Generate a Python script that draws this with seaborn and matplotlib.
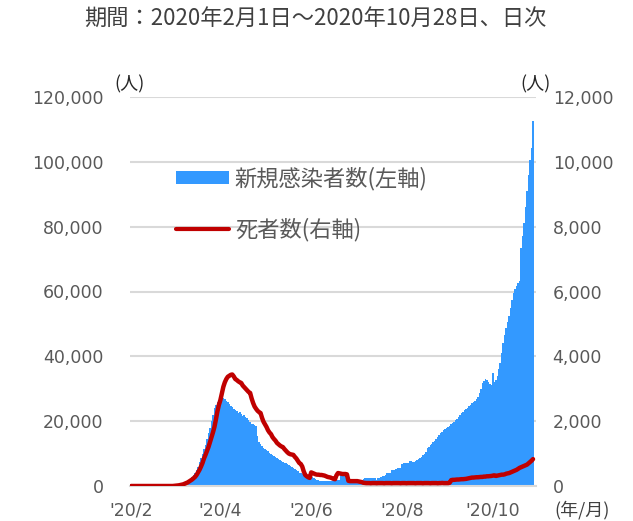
import numpy as np
import pandas as pd
import seaborn as sns
import matplotlib.pyplot as plt
from matplotlib.patches import Patch
from matplotlib.lines import Line2D

sns.set_style('white')
plt.rcParams['font.family'] = ['DejaVu Sans', 'Noto Sans CJK JP']
plt.rcParams['axes.unicode_minus'] = False
jp_font = ['Noto Sans CJK JP', 'DejaVu Sans']

# 新規感染者数（日次、2020/2/1～2020/10/28）
cases_feb = [0, 0, 0, 0, 0, 0, 0, 0, 0, 0, 0, 0, 0, 0, 0, 0, 0, 0, 0, 10,
             20, 30, 50, 80, 100, 130, 160, 190, 220]
cases_mar = [300, 400, 450, 500, 600, 750, 900, 1100, 1300, 1500,
             1800, 2200, 2700, 3300, 4000, 4800, 6000, 7400, 8700, 10000,
             11300, 12600, 14500, 16300, 18000, 20000, 22000, 24000, 25000, 25800,
             26200]
cases_apr = [26500, 27000, 27200, 26800, 26300, 25800, 25400, 24800, 24300, 23900,
             23300, 23000, 22500, 22800, 22100, 21600, 21900, 21300, 21000, 20500,
             19800, 19200, 19000, 18700, 18400, 15500, 13500, 13000, 12300, 11800]
cases_may = [11500, 11000, 10700, 10200, 10000, 9600, 9300, 9000, 8700, 8300,
             7900, 7700, 7400, 7200, 7000, 6800, 6500, 6200, 5900, 5600,
             5200, 4900, 4500, 4100, 3900, 3700, 3500, 3400, 3300, 3200,
             3100]
cases_jun = [2900, 2700, 2400, 2100, 1900, 1700, 1500, 1400, 1400, 1500,
             1400, 1500, 1500, 1500, 1600, 1600, 1700, 1800, 1800, 2000,
             3500, 3900, 4000, 3900, 3700, 2000, 1300, 1200, 1200, 1200]
cases_jul = [1200, 1200, 1300, 1300, 1300, 2300, 2400, 2500, 2500, 2400,
             2500, 2600, 2500, 2600, 2000, 2500, 2600, 2700, 3100, 3200,
             3300, 3900, 4000, 4100, 4800, 5000, 5000, 5100, 5500, 5600,
             5700]
cases_aug = [6800, 7000, 7000, 7100, 7200, 7600, 7700, 7500, 7400, 7600,
             8000, 8300, 8500, 9100, 9500, 9800, 10600, 11700, 12000, 12500,
             13000, 13600, 14000, 14500, 15200, 15700, 16200, 16800, 17300, 17700,
             18000]
cases_sep = [18200, 18600, 19100, 19500, 19800, 20300, 20800, 21400, 22000, 22400,
             22900, 23500, 23800, 24200, 24600, 25000, 25500, 25900, 26200, 26800,
             27500, 28700, 30000, 31700, 32400, 33000, 32600, 32200, 31500, 31200]
cases_oct = [34800, 32000, 32700, 34000, 36000, 37900, 41000, 44000, 46500, 48700,
             50500, 52300, 55000, 57500, 59500, 60800, 61600, 62500, 63100, 73400,
             77000, 81200, 86000, 90900, 96000, 100700, 104300, 112500]

# 死者数（日次）
deaths_feb = [0, 0, 0, 0, 0, 0, 0, 0, 0, 0, 0, 0, 0, 0, 0, 0, 0, 0, 0, 0,
              0, 0, 0, 0, 0, 0, 0, 0, 0]
deaths_mar = [5, 10, 15, 20, 30, 40, 50, 70, 90, 110,
              140, 170, 200, 240, 280, 340, 420, 500, 600, 710,
              850, 960, 1080, 1200, 1350, 1500, 1650, 1820, 2050, 2300,
              2500]
deaths_apr = [2650, 2850, 3060, 3200, 3300, 3370, 3400, 3430, 3440, 3380,
              3300, 3270, 3230, 3200, 3180, 3100, 3050, 3000, 2950, 2900,
              2870, 2700, 2560, 2450, 2380, 2320, 2280, 2250, 2100, 1980]
deaths_may = [1900, 1820, 1720, 1650, 1600, 1510, 1450, 1400, 1330, 1290,
              1250, 1220, 1200, 1140, 1090, 1040, 1000, 980, 970, 960,
              900, 850, 780, 710, 680, 600, 450, 340, 300, 270,
              250]
deaths_jun = [420, 400, 380, 360, 350, 350, 340, 340, 330, 320,
              300, 280, 270, 260, 240, 220, 210, 330, 400, 390,
              380, 370, 370, 370, 360, 160, 150, 150, 150, 150]
deaths_jul = [150, 150, 140, 130, 120, 100, 95, 90, 90, 90,
              85, 90, 90, 90, 85, 90, 90, 90, 90, 85,
              90, 90, 90, 90, 85, 90, 90, 90, 90, 90,
              85]
deaths_aug = [90, 90, 90, 85, 90, 90, 90, 90, 90, 85,
              90, 90, 90, 90, 85, 90, 90, 90, 90, 85,
              90, 90, 90, 90, 85, 90, 90, 95, 90, 90,
              90]
deaths_sep = [90, 100, 180, 190, 190, 195, 200, 200, 205, 210,
              210, 215, 220, 230, 240, 250, 260, 260, 265, 270,
              270, 275, 280, 280, 290, 290, 300, 300, 305, 310]
deaths_oct = [320, 330, 310, 320, 330, 340, 350, 350, 360, 380,
              390, 400, 420, 440, 460, 480, 500, 530, 560, 580,
              600, 620, 640, 660, 700, 740, 780, 830]

cases = (cases_feb + cases_mar + cases_apr + cases_may + cases_jun
         + cases_jul + cases_aug + cases_sep + cases_oct)
deaths = (deaths_feb + deaths_mar + deaths_apr + deaths_may + deaths_jun
          + deaths_jul + deaths_aug + deaths_sep + deaths_oct)

dates = pd.date_range('2020-02-01', '2020-10-28', freq='D')
data = pd.DataFrame({'date': dates, 'cases': cases, 'deaths': deaths})
data['day'] = np.arange(len(data))

tick_labels = ["'20/2", "'20/4", "'20/6", "'20/8", "'20/10"]
tick_dates = ['2020-02-01', '2020-04-01', '2020-06-01', '2020-08-01', '2020-10-01']
tick_pos = [int((pd.Timestamp(d) - dates[0]).days) for d in tick_dates]

blue = '#3399FF'
red = '#C00000'
gray = '#595959'

fig = plt.figure(figsize=(6.33, 5.21), dpi=100)
ax = fig.add_axes([130 / 633, 35 / 521, 406 / 633, 389 / 521])

sns.barplot(x='day', y='cases', data=data, ax=ax, color=blue, saturation=1,
            width=1.05, linewidth=0, errorbar=None)

ax2 = ax.twinx()
sns.lineplot(x='day', y='deaths', data=data, ax=ax2, color=red, linewidth=3.2,
             legend=False)

ax.set_xlim(-0.7, 272)
ax.set_ylim(0, 120000)
ax2.set_ylim(0, 12000)
ax.set_yticks(np.arange(0, 120001, 20000))
ax.set_yticklabels([f'{v:,}' for v in range(0, 120001, 20000)], family='DejaVu Sans')
ax2.set_yticks(np.arange(0, 12001, 2000))
ax2.set_yticklabels([f'{v:,}' for v in range(0, 12001, 2000)], family='DejaVu Sans')
ax.set_xticks(tick_pos)
ax.set_xticklabels(tick_labels, family='DejaVu Sans')

ax.grid(axis='y', color='#D9D9D9', linewidth=1.5)
ax.grid(axis='x', visible=False)
ax.set_axisbelow(True)
for a in (ax, ax2):
    for s in a.spines.values():
        s.set_visible(False)
    a.set_xlabel('')
    a.set_ylabel('')
ax.spines['bottom'].set_visible(True)
ax.spines['bottom'].set_color('#D9D9D9')
ax.spines['bottom'].set_linewidth(1.5)

# pad は pt 単位
ax.tick_params(axis='x', direction='out', length=4.5, width=1.2, color='#BFBFBF',
               labelsize=12.5, labelcolor=gray, pad=6.5)
ax.tick_params(axis='y', length=0, labelsize=12.5, labelcolor=gray, pad=19)
ax2.tick_params(axis='y', length=0, labelsize=12.5, labelcolor=gray, pad=12)

fig.text(315 / 633, 1 - 18 / 521, '期間：2020年2月1日～2020年10月28日、日次',
         ha='center', va='center', fontsize=16, color='#404040', family=jp_font)
fig.text(130 / 633, 1 - 84 / 521, '(人)', ha='center', va='center',
         fontsize=13, color='#262626', family=jp_font)
fig.text(536 / 633, 1 - 84 / 521, '(人)', ha='center', va='center',
         fontsize=13, color='#262626', family=jp_font)
fig.text(582 / 633, 1 - 510 / 521, '(年/月)', ha='center', va='center',
         fontsize=13, color='#404040', family=jp_font)

handles = [Patch(facecolor=blue, edgecolor='none'),
           Line2D([0], [0], color=red, linewidth=3)]
labels = ['新規感染者数(左軸)', '死者数(右軸)']
fig.legend(handles, labels, loc='upper left', bbox_to_anchor=(176 / 633, 1 - 167 / 521),
           frameon=False, borderpad=0, borderaxespad=0, handlelength=2.4,
           handleheight=0.5, handletextpad=0.25, labelspacing=1.22,
           prop={'family': jp_font, 'size': 16}, labelcolor=gray)

plt.savefig('out.png', dpi=100)
